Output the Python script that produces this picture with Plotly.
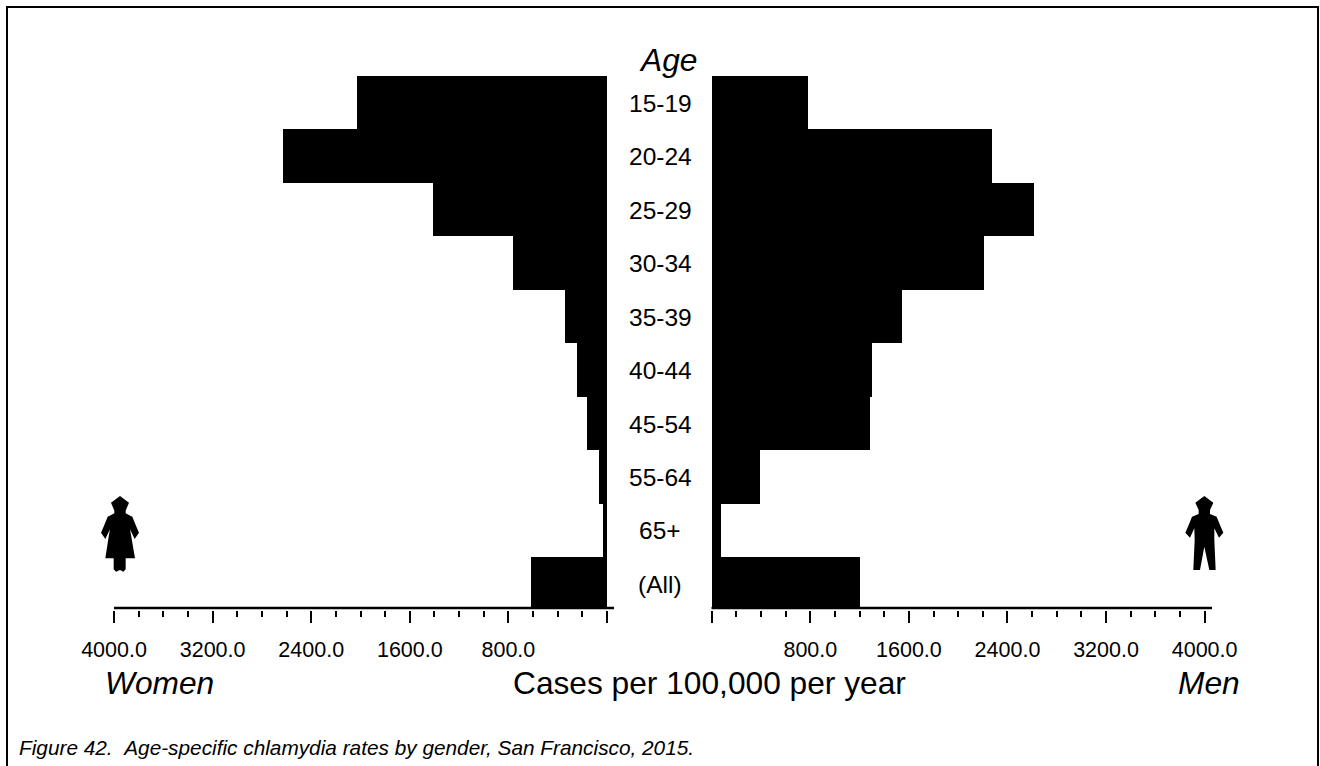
import plotly.graph_objects as go

ages = ["15-19", "20-24", "25-29", "30-34", "35-39", "40-44", "45-54", "55-64", "65+", "(All)"]
women = [2028, 2629, 1412, 763, 341, 243, 162, 65, 32, 617]
men = [779, 2272, 2613, 2207, 1542, 1298, 1282, 389, 73, 1201]
major_ticks = [0, 800, 1600, 2400, 3200, 4000]
major_labels = ["", "800.0", "1600.0", "2400.0", "3200.0", "4000.0"]
minor_ticks = [200, 400, 600, 1000, 1200, 1400, 1800, 2000, 2200, 2600, 2800, 3000, 3400, 3600, 3800]

W, H = 1320, 766
FONT = "Liberation Sans"
def px(x): return x / W
def py(y): return 1 - y / H

def path(points, ox, oy):
    return "M" + " L".join(f"{px(ox + a / 3):.5f},{py(oy + b / 3):.5f}" for a, b in points) + " Z"

female_icon = [(90,18),(117,38),(107,62),(107,70),(127,80),(137,105),(147,128),(134,147),(120,118),(124,140),(135,205),
               (107,205),(107,238),(100,245),(90,240),(78,245),(71,238),(71,205),(46,205),(56,140),(60,118),(46,147),
               (33,128),(43,105),(53,80),(73,70),(73,62),(63,38)]
male_icon = [(103,18),(130,38),(120,60),(120,72),(140,80),(150,105),(160,128),(147,143),(133,115),(133,150),(137,240),
             (118,240),(103,170),(90,240),(70,240),(74,150),(73,115),(60,143),(46,128),(56,105),(66,80),(86,72),(86,60),(76,38)]

fig = go.Figure()
fig.add_trace(go.Bar(y=ages, x=women, orientation="h", xaxis="x", yaxis="y", marker=dict(color="black", line=dict(width=0)), showlegend=False))
fig.add_trace(go.Bar(y=ages, x=men, orientation="h", xaxis="x2", yaxis="y", marker=dict(color="black", line=dict(width=0)), showlegend=False))

AX_POS = py(610)
axis_common = dict(
    anchor="free", position=AX_POS, showgrid=False, zeroline=False, showline=False, automargin=False,
    tickmode="array", tickvals=major_ticks, ticktext=major_labels,
    ticks="outside", ticklen=12, tickwidth=1.6, tickcolor="black", ticklabelstandoff=8,
    tickfont=dict(family=FONT, size=21.5, color="black"),
    minor=dict(tickmode="array", tickvals=minor_ticks, ticks="outside", ticklen=6, tickwidth=1.6, tickcolor="black"),
)
fig.update_layout(
    width=W, height=H, autosize=False,
    margin=dict(l=0, r=0, t=0, b=0, autoexpand=False),
    paper_bgcolor="white", plot_bgcolor="white",
    bargap=0, barmode="overlay",
    xaxis=dict(domain=[px(114), px(607)], range=[4000, 0], **axis_common),
    xaxis2=dict(domain=[px(711.8), px(1204.6)], range=[0, 4000], **axis_common),
    yaxis=dict(domain=[py(608), py(76)], autorange=False, range=[9.45, -0.5], type="category",
               categoryorder="array", categoryarray=ages, visible=False, anchor="x"),
)

shapes = [
    dict(type="line", xref="paper", yref="paper", x0=px(114), x1=px(614), y0=py(608), y1=py(608), line=dict(color="black", width=2.5)),
    dict(type="line", xref="paper", yref="paper", x0=px(711.5), x1=px(1212), y0=py(608), y1=py(608), line=dict(color="black", width=2.5)),
    dict(type="path", xref="paper", yref="paper", path=f"M{px(7)},{py(800)} L{px(7)},{py(7)} L{px(1318)},{py(7)} L{px(1318)},{py(800)}",
         line=dict(color="black", width=2)),
    dict(type="path", xref="paper", yref="paper", path=path(female_icon, 90, 490), fillcolor="black", line=dict(width=0)),
    dict(type="path", xref="paper", yref="paper", path=path(male_icon, 1170, 490), fillcolor="black", line=dict(width=0)),
]
fig.update_layout(shapes=shapes)

def note(x, y, text, size, italic=False, xanchor="center"):
    return dict(xref="paper", yref="paper", x=px(x), y=py(y), text=f"<i>{text}</i>" if italic else text, showarrow=False,
                xanchor=xanchor, yanchor="middle", font=dict(family=FONT, size=size, color="black"))

ann = [dict(xref="paper", yref="y", x=px(660), y=a, yshift=-0.5, text=a, showarrow=False, xanchor="center", yanchor="middle",
            font=dict(family=FONT, size=24.5, color="black")) for a in ages]
ann += [
    note(668, 60, "Age", 31.7, True),
    note(159, 683, "Women", 31.7, True),
    note(1208.5, 683, "Men", 31.7, True),
    note(709, 683, "Cases per 100,000 per year", 31.7),
    note(17, 747, "Figure 42.&nbsp;&nbsp;Age-specific chlamydia rates by gender, San Francisco, 2015.", 20.8, True, "left"),
]
fig.update_layout(annotations=ann)
fig.write_html("out.html", post_script="document.body.style.margin='0';", config=dict(displayModeBar=False))
